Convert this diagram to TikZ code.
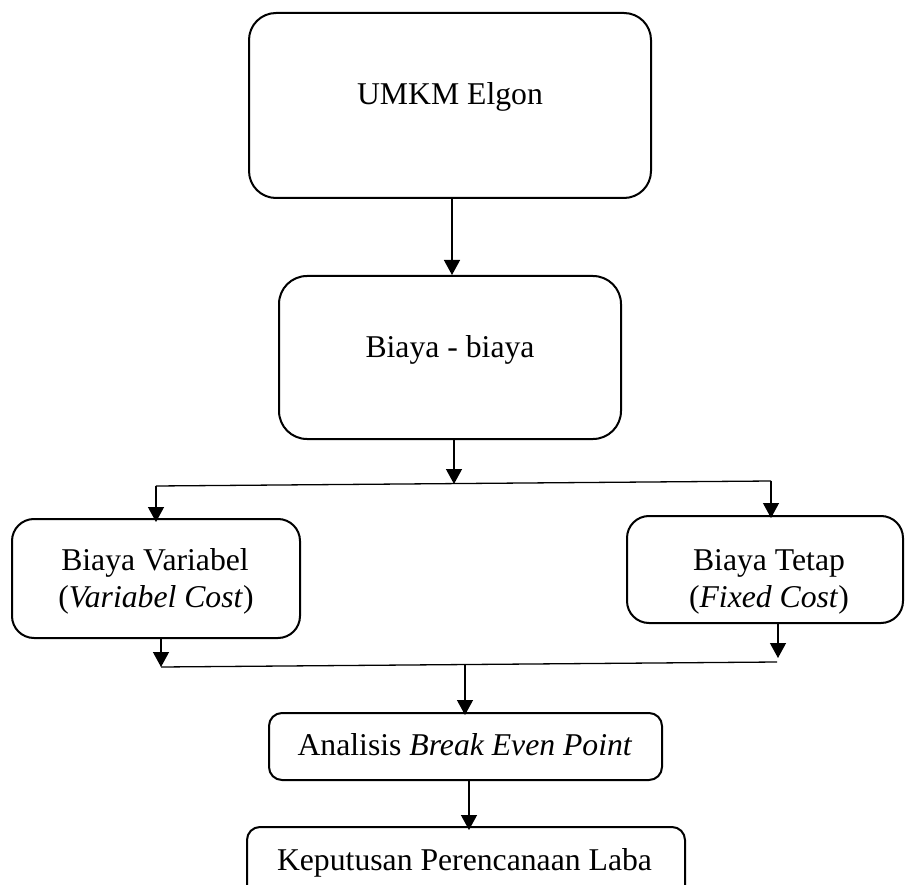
\documentclass[tikz,border=0pt]{standalone}
\usepackage{fontspec}
\setmainfont{Liberation Serif}
\usetikzlibrary{arrows.meta}
\begin{document}
\begin{tikzpicture}[x=1pt,y=-1pt,
  box/.style={draw=black,line width=2pt,rounded corners=#1,inner sep=0pt,fill=none},
  lbl/.style={anchor=base,inner sep=0pt,font=\fontsize{31.7}{37}\selectfont},
  conn/.style={draw=black,line width=1.3pt},
  arr/.style={conn,-{Triangle[length=15pt,width=16pt]}}]
\clip (0,0) rectangle (905,885);
\fill[white] (0,0) rectangle (905,885);
% boxes
\node[box=27pt,minimum width=402pt,minimum height=185pt] (b1) at (450,105.5) {};
\node[box=28pt,minimum width=342pt,minimum height=163pt] (b2) at (450,357.5) {};
\node[box=22pt,minimum width=288pt,minimum height=119pt] (b3) at (156,578.5) {};
\node[box=22pt,minimum width=276pt,minimum height=107pt] (b4) at (765,569.5) {};
\node[box=13pt,minimum width=393pt,minimum height=67pt] (b5) at (465.5,746.5) {};
\node[box=13pt,minimum width=438pt,minimum height=90pt] (b6) at (466,872) {};
% texts
\node[lbl] (t1) at (450,105) {UMKM Elgon};
\node[lbl] (t2) at (450,357) {Biaya - biaya};
\node[lbl] (t3a) at (155,570) {Biaya Variabel};
\node[lbl] (t3b) at (156,607) {(\textit{Variabel Cost})};
\node[lbl] (t4a) at (769,570) {Biaya Tetap};
\node[lbl] (t4b) at (769,607) {(\textit{Fixed Cost})};
\node[lbl] (t5) at (465,755) {Analisis \textit{Break Even Point}};
\node[lbl] (t6) at (464.5,870) {Keputusan Perencanaan Laba};
% junction coordinates
\coordinate (j1) at (454,484);
\coordinate (jl1) at (156,486);
\coordinate (jr1) at (771,481);
\coordinate (jl2) at (161,667);
\coordinate (jr2) at (777,662);
\coordinate (j2) at (465,665);
\coordinate (f4) at (778,658);
% connectors
\draw[arr] (b1.south -| 452,0) -- (b2.north -| 452,0);
\draw[arr] (b2.south -| j1) -- (j1);
\draw[conn] (jl1) -- (jr1);
\draw[arr] (jl1) -- ([yshift=-4pt]b3.north -| jl1);
\draw[arr] (jr1) -- ([yshift=-3pt]b4.north -| jr1);
\draw[arr] (b3.south -| jl2) -- (jl2);
\draw[arr] ([yshift=2pt]b4.south -| f4) -- (f4);
\draw[conn] (jl2) -- (jr2);
\draw[arr] (j2) -- ([yshift=-3pt]b5.north -| j2);
\draw[arr] (b5.south -| 469,0) -- ([yshift=-4pt]b6.north -| 469,0);
\end{tikzpicture}
\end{document}
